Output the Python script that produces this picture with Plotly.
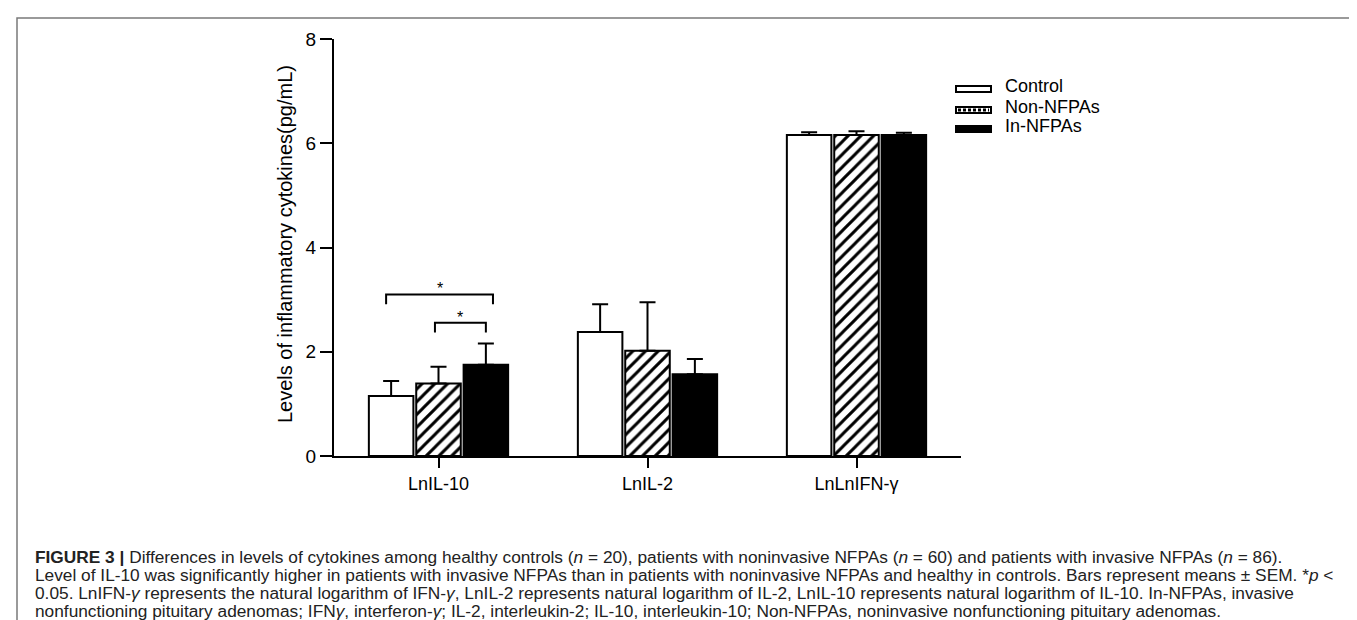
import plotly.graph_objects as go

# ---------------- data ----------------
categories = ["LnIL-10", "LnIL-2", "LnLnIFN-γ"]
series_names = ["Control", "Non-NFPAs", "In-NFPAs"]
control_mean = [1.15, 2.38, 6.16]
control_sem = [0.29, 0.53, 0.05]
non_mean = [1.39, 2.02, 6.16]
non_sem = [0.32, 0.93, 0.07]
in_mean = [1.75, 1.57, 6.16]
in_sem = [0.41, 0.29, 0.04]
y_ticks = [0, 2, 4, 6, 8]
# significance comparisons within LnIL-10: (group a, group b, label)
sig_pairs = [(0, 2, "*"), (1, 2, "*")]

# ---------------- layout geometry ----------------
W, H = 1357, 620
L, R, T, B = 326, 953, 31, 448
BARGAP = 0.32
BARGROUPGAP = 0.06


def px(x):
    return (x - L) / (R - L)


def py(y):
    return (B - y) / (B - T)


FONT = "Liberation Sans, Arial, Helvetica, sans-serif"

fig = go.Figure()
xs = list(range(len(categories)))

styles = [
    dict(color="white", pattern=None),
    dict(color="white", pattern=dict(shape="/", fgcolor="black", bgcolor="white",
                                     fgopacity=1, size=9, solidity=0.33)),
    dict(color="black", pattern=None),
]
means = [control_mean, non_mean, in_mean]
sems = [control_sem, non_sem, in_sem]
for name, m, s, st in zip(series_names, means, sems, styles):
    marker = dict(color=st["color"], line=dict(color="black", width=2))
    if st["pattern"]:
        marker["pattern"] = st["pattern"]
    fig.add_trace(go.Bar(
        x=xs, y=m, name=name, marker=marker,
        error_y=dict(type="data", array=s, arrayminus=[0] * len(s), symmetric=False,
                     color="black", thickness=2, width=8),
        showlegend=False,
    ))

# significance brackets (positions derived from bar slots)
slot = (1 - BARGAP) / 3
offsets = [-slot, 0.0, slot]
levels = [(2.91, 3.10), (2.37, 2.555)]
ends_adj = [(-0.024, 0.034), (-0.017, 0.0)]
for (a, b, lab), (ybot, ytop), (da, db) in zip(sig_pairs, levels, ends_adj):
    xa = xs[0] + offsets[a] + da
    xb = xs[0] + offsets[b] + db
    fig.add_trace(go.Scatter(
        x=[xa, xa, xb, xb], y=[ybot, ytop, ytop, ybot], mode="lines",
        line=dict(color="black", width=2), showlegend=False, hoverinfo="skip",
    ))
    fig.add_annotation(x=(xa + xb) / 2, y=ytop, text=lab, showarrow=False,
                       yanchor="bottom", yshift=-5,
                       font=dict(size=16, color="black", family=FONT))

# custom legend
leg_x0, leg_x1 = 948, 983
leg_rows = [81, 102, 121]
for name, yc, i in zip(series_names, leg_rows, range(3)):
    fill = "black" if i == 2 else "white"
    fig.add_shape(type="rect", xref="paper", yref="paper",
                  x0=px(leg_x0), x1=px(leg_x1), y0=py(yc - 3), y1=py(yc + 3),
                  fillcolor=fill, line=dict(color="black", width=2))
    if i == 1:
        fig.add_shape(type="line", xref="paper", yref="paper",
                      x0=px(leg_x0 + 2), x1=px(leg_x1 - 2), y0=py(yc), y1=py(yc),
                      line=dict(color="black", width=3, dash="3px,2px"))
    fig.add_annotation(xref="paper", yref="paper", x=px(995), y=py(yc - 3),
                       text=name, showarrow=False, xanchor="left", yanchor="middle",
                       font=dict(size=18, color="black", family=FONT))

# y-axis title
fig.add_annotation(xref="paper", yref="paper", x=px(277), y=py(236),
                   text="Levels of inflammatory cytokines(pg/mL)", showarrow=False,
                   textangle=-90, xanchor="center", yanchor="middle",
                   font=dict(size=20, color="black", family=FONT))

# frame around figure + caption
fig.add_shape(type="rect", xref="paper", yref="paper",
              x0=px(9), x1=px(1352), y0=py(660), y1=py(10),
              line=dict(color="#7a7a7a", width=1.5), fillcolor="rgba(0,0,0,0)", layer="below")

caption_lines = [
    "<b>FIGURE 3 |</b> Differences in levels of cytokines among healthy controls (<i>n</i> = 20), patients with noninvasive NFPAs (<i>n</i> = 60) and patients with invasive NFPAs (<i>n</i> = 86).",
    "Level of IL-10 was significantly higher in patients with invasive NFPAs than in patients with noninvasive NFPAs and healthy in controls. Bars represent means ± SEM. *<i>p</i> <",
    "0.05. LnIFN-<i>γ</i> represents the natural logarithm of IFN-<i>γ</i>, LnIL-2 represents natural logarithm of IL-2, LnIL-10 represents natural logarithm of IL-10. In-NFPAs, invasive",
    "nonfunctioning pituitary adenomas; IFN<i>γ</i>, interferon-<i>γ</i>; IL-2, interleukin-2; IL-10, interleukin-10; Non-NFPAs, noninvasive nonfunctioning pituitary adenomas.",
]
cap_y = [549, 567, 585, 603]
for line, yc in zip(caption_lines, cap_y):
    fig.add_annotation(xref="paper", yref="paper", x=px(25), y=py(yc), text=line,
                       showarrow=False, xanchor="left", yanchor="middle",
                       font=dict(size=17.3, color="#222222", family=FONT))

fig.update_layout(
    width=W, height=H,
    margin=dict(l=L, r=W - R, t=T, b=H - B, pad=0),
    paper_bgcolor="white", plot_bgcolor="white",
    barmode="group", bargap=BARGAP, bargroupgap=BARGROUPGAP,
    showlegend=False,
    font=dict(family=FONT, color="black"),
)
fig.update_xaxes(
    range=[-0.5, 2.5], tickvals=xs, ticktext=categories,
    showline=True, linecolor="black", linewidth=2, ticks="outside", ticklen=10,
    tickwidth=2, tickcolor="black", showgrid=False, zeroline=False,
    tickfont=dict(size=18, family=FONT, color="black"),
)
fig.update_yaxes(
    range=[0, 8], tickvals=y_ticks, showline=True, linecolor="black", linewidth=2,
    ticks="outside", ticklen=12, tickwidth=2, tickcolor="black", showgrid=False,
    zeroline=False, tickfont=dict(size=19, family=FONT, color="black"),
)

fig.write_html("out.html")
